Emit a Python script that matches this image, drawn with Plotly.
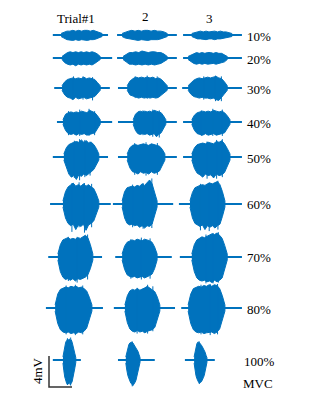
import plotly.graph_objects as go

# ---------------- data ----------------
LEVELS = ["10%", "20%", "30%", "40%", "50%", "60%", "70%", "80%", "100%"]
TRIALS = ["Trial#1", "2", "3"]
SCALE_MV = 4      # vertical scale bar (mV)
SCALE_S = 5       # horizontal scale bar (s)

# recording window and burst timing (s, relative to the trial column start)
REC_ON = [[1.7, 1.1, 1.1], [1.7, 1.1, 1.1], [2.0, 1.3, 0.9], [2.6, 1.3, 1.1], [1.7, 1.3, 1.1],
          [1.1, 0.2, 0.2], [0.7, 0.7, 0.4], [0.2, 0.4, 0.7], [1.7, 1.3, 1.5]]
BURST_ON = [[3.5, 2.2, 3.0], [3.7, 2.4, 2.2], [3.7, 3.3, 2.2], [3.9, 4.6, 3.0], [4.1, 3.3, 3.0],
            [3.9, 2.2, 2.6], [2.8, 2.2, 3.0], [2.2, 2.8, 2.2], [3.9, 3.0, 3.5]]
BURST_OFF = [[12.4, 12.0, 11.7], [12.0, 12.0, 10.7], [12.0, 12.0, 10.7], [12.0, 11.7, 11.3], [11.7, 11.5, 11.3],
             [11.7, 9.8, 10.2], [10.4, 9.8, 10.7], [10.2, 10.4, 10.2], [6.7, 6.1, 6.3]]
REC_OFF = [[13.7, 14.1, 13.9], [14.6, 14.1, 13.9], [14.1, 14.1, 13.9], [14.6, 14.1, 13.9], [13.7, 14.1, 13.9],
           [14.3, 13.3, 13.9], [12.4, 13.0, 13.9], [12.6, 13.7, 13.9], [7.8, 9.3, 8.0]]

# burst envelopes (mV): positive peaks (UP) and negative peaks (DN), per trial
UP_10 = [[0.2,0.4,0.5,0.5,0.6,0.5,0.6,0.5,0.6,0.6,0.5,0.6,0.5,0.4,0.2],
         [0.2,0.4,0.5,0.6,0.5,0.6,0.5,0.6,0.6,0.5,0.6,0.5,0.5,0.4,0.2],
         [0.2,0.3,0.4,0.5,0.4,0.5,0.4,0.5,0.5,0.4,0.5,0.4,0.4,0.3,0.2]]
DN_10 = [[0.2,0.4,0.6,0.6,0.7,0.6,0.7,0.6,0.6,0.7,0.6,0.6,0.5,0.4,0.2],
         [0.2,0.4,0.5,0.6,0.6,0.7,0.6,0.6,0.7,0.6,0.6,0.6,0.5,0.4,0.2],
         [0.2,0.3,0.5,0.5,0.5,0.6,0.5,0.5,0.6,0.5,0.5,0.5,0.4,0.3,0.2]]
UP_20 = [[0.2,0.5,0.7,0.8,0.7,0.8,0.7,0.8,0.7,0.8,0.7,0.8,0.7,0.5,0.2],
         [0.2,0.5,0.7,0.7,0.8,0.7,0.9,0.8,0.7,0.8,0.8,0.7,0.7,0.5,0.2],
         [0.2,0.4,0.6,0.7,0.6,0.7,0.6,0.7,0.7,0.6,0.7,0.6,0.6,0.4,0.2]]
DN_20 = [[0.2,0.6,0.8,0.9,0.8,1.0,0.8,0.9,0.8,0.9,0.8,0.9,0.7,0.5,0.2],
         [0.2,0.5,0.8,0.8,0.9,0.8,0.9,0.8,0.9,0.8,0.9,0.8,0.7,0.5,0.2],
         [0.2,0.5,0.7,0.8,0.7,0.8,0.7,0.8,0.8,0.7,0.8,0.7,0.6,0.5,0.2]]
UP_30 = [[0.3,0.8,1.1,1.2,1.3,1.2,1.3,1.2,1.4,1.2,1.3,1.2,1.1,0.7,0.3],
         [0.3,0.9,1.2,1.4,1.3,1.4,1.3,1.4,1.3,1.4,1.2,1.3,1.1,0.7,0.3],
         [0.3,0.7,1.0,1.2,1.3,1.2,1.3,1.4,1.3,1.4,1.5,1.3,1.2,0.8,0.3]]
DN_30 = [[0.3,0.9,1.2,1.3,1.5,1.2,1.4,1.3,1.2,1.4,1.3,1.2,1.1,0.7,0.3],
         [0.3,0.9,1.1,1.2,1.3,1.2,1.3,1.2,1.3,1.2,1.3,1.2,1.0,0.6,0.3],
         [0.3,0.8,1.1,1.2,1.3,1.2,1.3,1.3,1.4,1.3,1.5,1.6,1.2,0.8,0.3]]
UP_40 = [[0.3,1.0,1.2,1.3,1.2,1.3,1.2,1.4,1.3,1.2,1.5,1.3,1.2,0.8,0.3],
         [0.3,1.0,1.3,1.4,1.3,1.4,1.3,1.4,1.3,1.5,1.4,1.3,1.2,0.8,0.3],
         [0.3,0.9,1.2,1.3,1.4,1.3,1.4,1.3,1.5,1.4,1.3,1.4,1.2,0.8,0.3]]
DN_40 = [[0.3,1.1,1.5,1.6,1.5,1.7,1.5,1.6,1.5,1.7,1.6,1.5,1.4,0.9,0.3],
         [0.3,1.1,1.5,1.6,1.5,1.6,1.5,1.7,1.6,1.5,1.9,1.6,1.4,0.9,0.3],
         [0.3,1.1,1.5,1.6,1.7,1.5,1.7,1.6,1.5,1.7,1.6,1.5,1.4,0.9,0.3]]
UP_50 = [[0.4,1.2,1.6,1.8,1.9,2.0,1.9,2.2,1.9,2.1,1.8,1.9,1.6,1.1,0.4],
         [0.4,1.2,1.5,1.6,1.5,1.6,1.7,1.6,1.5,1.7,1.6,1.5,1.4,1.0,0.4],
         [0.4,1.2,1.6,1.7,1.8,1.7,1.9,1.8,1.7,2.0,1.9,2.1,1.7,1.1,0.4]]
DN_50 = [[0.4,1.4,2.2,2.6,2.4,2.9,2.3,2.5,2.2,2.4,2.1,1.9,1.6,1.0,0.4],
         [0.4,1.4,1.9,2.0,2.2,1.9,2.1,2.0,2.2,1.9,2.1,2.0,1.8,1.2,0.4],
         [0.4,1.5,2.1,2.3,2.6,2.2,2.4,2.3,2.7,2.2,2.4,2.3,2.0,1.3,0.4]]
UP_60 = [[0.4,1.6,2.2,2.4,2.7,2.3,2.5,2.3,2.6,2.3,2.5,2.2,2.0,1.3,0.4],
         [0.4,1.6,2.1,2.2,2.3,2.2,2.4,2.3,2.6,2.4,2.7,3.1,2.6,1.6,0.4],
         [0.4,1.5,2.1,2.3,2.4,2.5,2.4,2.6,2.7,2.6,2.8,2.9,2.5,1.6,0.4]]
DN_60 = [[0.4,1.8,2.5,2.8,2.6,3.3,2.7,2.9,2.6,3.4,2.7,2.5,2.2,1.4,0.4],
         [0.4,1.8,2.5,2.7,2.6,2.8,2.7,3.0,2.8,3.1,2.8,2.9,2.6,1.6,0.4],
         [0.4,1.8,2.5,2.7,2.9,2.7,3.3,2.8,3.0,2.8,3.1,2.8,2.6,1.6,0.4]]
UP_70 = [[0.4,1.6,2.2,2.3,2.5,2.3,2.4,2.3,2.5,2.4,2.6,2.8,2.5,1.6,0.4],
         [0.4,1.4,1.9,2.1,2.2,2.1,2.3,2.2,2.1,2.3,2.2,2.1,1.9,1.3,0.4],
         [0.4,1.6,2.2,2.4,2.6,2.5,2.7,2.8,3.0,2.9,3.1,2.8,2.4,1.5,0.4]]
DN_70 = [[0.4,1.9,2.6,2.9,2.8,3.0,2.8,3.1,2.8,2.9,2.7,2.6,2.3,1.5,0.4],
         [0.4,1.6,2.3,2.5,2.6,2.5,2.7,2.6,2.5,2.7,2.6,2.4,2.2,1.5,0.4],
         [0.4,1.9,2.7,3.0,3.1,3.0,3.2,3.1,3.3,3.0,3.2,3.0,2.7,1.7,0.4]]
UP_80 = [[0.4,1.8,2.4,2.6,2.7,2.6,2.8,2.7,2.8,2.6,2.7,2.5,2.2,1.4,0.4],
         [0.4,1.6,2.2,2.4,2.3,2.5,2.3,2.4,2.6,2.8,2.6,2.4,2.1,1.4,0.4],
         [0.4,1.8,2.5,2.7,2.8,2.7,2.9,2.8,3.0,2.8,3.0,2.9,2.5,1.6,0.4]]
DN_80 = [[0.4,2.0,2.8,3.1,3.2,3.1,3.3,3.2,3.3,3.1,3.2,3.0,2.6,1.6,0.4],
         [0.4,1.9,2.7,3.0,3.1,2.9,3.1,3.0,3.2,3.0,2.9,2.8,2.5,1.6,0.4],
         [0.4,2.0,2.8,3.1,3.2,3.1,3.3,3.2,3.2,3.1,3.3,3.1,2.7,1.7,0.4]]
UP_100 = [[0.4,1.2,1.9,2.3,2.5,2.7,2.6,2.7,2.5,2.6,2.3,1.9,1.4,0.8,0.3],
          [0.4,1.1,1.7,2.0,2.2,2.3,2.3,2.2,2.0,1.8,1.6,1.4,1.1,0.7,0.3],
          [0.4,1.1,1.7,2.1,2.3,2.3,2.2,2.1,1.9,1.7,1.5,1.3,1.0,0.6,0.3]]
DN_100 = [[0.4,1.4,2.2,2.7,3.0,3.2,3.1,2.9,3.2,3.0,2.8,2.4,1.8,1.0,0.3],
          [0.4,1.3,2.0,2.4,2.7,3.0,3.1,3.3,3.1,2.9,2.6,2.2,1.7,1.0,0.3],
          [0.4,1.3,2.0,2.4,2.7,2.9,3.0,2.9,2.8,2.6,2.3,2.0,1.6,1.0,0.3]]

ENV_UP = [UP_10, UP_20, UP_30, UP_40, UP_50, UP_60, UP_70, UP_80, UP_100]
ENV_DN = [DN_10, DN_20, DN_30, DN_40, DN_50, DN_60, DN_70, DN_80, DN_100]

# isolated large spikes: (fraction of burst, positive peak mV, negative peak mV)
SPIKES = [
    [[], [], []],
    [[], [], []],
    [[(0.3, 1.5, 1.4), (0.55, 1.5, 1.5), (0.8, 1.4, 1.6)],
     [(0.2, 1.5, 1.3), (0.5, 1.6, 1.4), (0.75, 1.5, 1.3)],
     [(0.4, 1.5, 1.5), (0.7, 1.6, 1.7), (0.85, 1.5, 1.7)]],
    [[(0.15, 1.4, 1.7), (0.45, 1.6, 1.8), (0.7, 1.7, 1.8), (0.85, 1.4, 1.7)],
     [(0.3, 1.5, 1.7), (0.6, 1.6, 1.9), (0.8, 1.5, 2.0)],
     [(0.25, 1.5, 1.8), (0.55, 1.7, 1.8), (0.8, 1.6, 1.8)]],
    [[(0.3, 2.1, 2.7), (0.45, 2.3, 3.0), (0.6, 2.2, 2.6), (0.75, 2.0, 2.4)],
     [(0.2, 1.8, 2.3), (0.5, 1.9, 2.4), (0.8, 1.8, 2.3)],
     [(0.4, 2.0, 2.8), (0.65, 2.2, 2.8), (0.8, 2.3, 2.6)]],
    [[(0.25, 2.7, 3.6), (0.45, 2.8, 3.0), (0.6, 2.7, 3.7), (0.8, 2.6, 3.0)],
     [(0.3, 2.5, 3.0), (0.6, 2.7, 3.2), (0.85, 3.3, 3.1)],
     [(0.3, 2.6, 3.4), (0.55, 2.8, 3.5), (0.8, 3.0, 3.3)]],
    [[(0.3, 2.6, 3.1), (0.55, 2.6, 3.3), (0.85, 2.9, 2.9)],
     [(0.25, 2.3, 2.8), (0.55, 2.5, 2.9), (0.8, 2.4, 2.8)],
     [(0.4, 2.9, 3.4), (0.6, 3.1, 3.4), (0.75, 3.2, 3.3)]],
    [[(0.3, 2.9, 3.4), (0.55, 3.0, 3.5), (0.75, 2.9, 3.4)],
     [(0.35, 2.6, 3.3), (0.65, 3.0, 3.3), (0.8, 2.8, 3.0)],
     [(0.35, 3.0, 3.4), (0.6, 3.1, 3.5), (0.8, 3.1, 3.4)]],
    [[(0.35, 2.8, 3.2), (0.6, 2.9, 3.3)],
     [(0.45, 2.4, 3.4)],
     [(0.4, 2.4, 3.1)]],
]

# ---------------- layout / style ----------------
W, H = 332, 404          # browser window
OFF = 8                  # default page margin around the plot div
FW, FH = W - OFF, H - OFF
PX_PER_S = 4.6
PX_PER_MV = 7.75
ROW_BASE_PX = [35, 58, 88, 122, 157, 204, 257, 308, 360]
COL_ORIGIN_PX = [45, 112, 178]
BLUE = "#0072BD"
FONT = "Liberation Serif, Times New Roman, serif"

row_off = [-b / PX_PER_MV for b in ROW_BASE_PX]
col_off = [c / PX_PER_S for c in COL_ORIGIN_PX]


def px(xp):
    return (xp - OFF) / FW


def py(yp):
    return 1 - (yp - OFF) / FH


base_x, base_y = [], []
blob_x, blob_y = [], []
spk_x, spk_y = [], []
for r in range(len(LEVELS)):
    for c in range(len(TRIALS)):
        x0 = col_off[c]
        y0 = row_off[r]
        base_x += [x0 + REC_ON[r][c], x0 + REC_OFF[r][c], None]
        base_y += [y0, y0, None]
        up = ENV_UP[r][c]
        dn = ENV_DN[r][c]
        n = len(up)
        t0, t1 = BURST_ON[r][c], BURST_OFF[r][c]
        ts = [x0 + t0 + (t1 - t0) * i / (n - 1) for i in range(n)]
        blob_x += ts + ts[::-1] + [None]
        blob_y += [y0 + v for v in up] + [y0 - v for v in dn[::-1]] + [None]
        for f, su, sd in SPIKES[r][c]:
            t = x0 + t0 + (t1 - t0) * f
            spk_x += [t, t, None]
            spk_y += [y0 + su, y0 - sd, None]

fig = go.Figure()
fig.add_trace(go.Scatter(x=base_x, y=base_y, mode="lines",
                         line=dict(color=BLUE, width=2), hoverinfo="skip"))
fig.add_trace(go.Scatter(x=blob_x, y=blob_y, mode="lines", fill="toself",
                         fillcolor=BLUE, line=dict(color=BLUE, width=1),
                         hoverinfo="skip"))
fig.add_trace(go.Scatter(x=spk_x, y=spk_y, mode="lines",
                         line=dict(color=BLUE, width=1), hoverinfo="skip"))

# scale bar
sb_x0 = 49 / PX_PER_S
sb_y0 = -387 / PX_PER_MV
fig.add_trace(go.Scatter(x=[sb_x0, sb_x0, sb_x0 + SCALE_S],
                         y=[sb_y0 + SCALE_MV, sb_y0, sb_y0],
                         mode="lines", line=dict(color="#333333", width=1.5),
                         hoverinfo="skip"))

ann = []
title_px = [(76, 18), (145, 17), (209, 18)]
for name, (tx, ty) in zip(TRIALS, title_px):
    ann.append(dict(x=px(tx), y=py(ty), text=name, showarrow=False,
                    xref="paper", yref="paper", xanchor="center", yanchor="middle",
                    font=dict(family=FONT, size=13, color="black")))
for lab, yb in zip(LEVELS, ROW_BASE_PX):
    ann.append(dict(x=px(259), y=py(yb + 1), text=lab, showarrow=False,
                    xref="paper", yref="paper", xanchor="center", yanchor="middle",
                    font=dict(family=FONT, size=13, color="black")))
ann.append(dict(x=px(258), y=py(383), text="MVC", showarrow=False,
                xref="paper", yref="paper", xanchor="center", yanchor="middle",
                font=dict(family=FONT, size=13, color="black")))
ann.append(dict(x=px(37), y=py(371), text=f"{SCALE_MV}mV", showarrow=False,
                textangle=-90, xref="paper", yref="paper",
                xanchor="center", yanchor="middle",
                font=dict(family=FONT, size=13, color="black")))

fig.update_layout(
    width=FW, height=FH, margin=dict(l=0, r=0, t=0, b=0),
    paper_bgcolor="white", plot_bgcolor="white", showlegend=False,
    xaxis=dict(range=[OFF / PX_PER_S, W / PX_PER_S], visible=False, fixedrange=True),
    yaxis=dict(range=[-H / PX_PER_MV, -OFF / PX_PER_MV], visible=False, fixedrange=True),
    annotations=ann,
)
fig.write_html("out.html")
